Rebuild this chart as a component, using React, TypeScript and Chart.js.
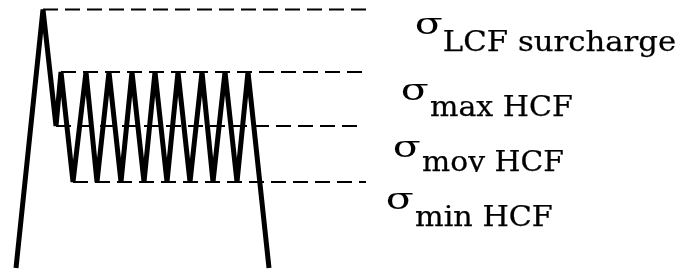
import { useEffect, useRef } from "react";
import { Chart, registerables } from "chart.js";

Chart.register(...registerables);

// Loading history: time (x) and stress (y)
const cycleTime = [16, 43, 56, 61, 73, 86, 97, 109, 121, 132, 144, 155, 167, 178, 190, 202, 213, 225, 237, 248, 269];
const cycleStress = [5, 263.5, 147, 201, 91, 201, 91, 201, 91, 201, 91, 201, 91, 201, 91, 201, 91, 201, 91, 201, 5];

// Reference stress levels (dashed lines)
const levelNames = ["LCF surcharge", "max HCF", "moy HCF", "min HCF"];
const levelValues = [263.5, 201, 147, 91];
const levelStart = [43, 61, 56, 73];
const levelEnd = [366, 366, 358, 366];

// Label layout (pixels): sigma ink-left, sigma baseline, subscript ink-left, subscript baseline, subscript width
const labelLayout = [
  { sx: 416, sy: 34, bx: 444, by: 51, bw: 231, clip: 0 },
  { sx: 402, sy: 100, bx: 430, by: 116, bw: 142, clip: 0 },
  { sx: 394, sy: 157, bx: 422, by: 171, bw: 141, clip: 172 },
  { sx: 387, sy: 209, bx: 415, by: 226, bw: 137, clip: 0 },
];
const SIGMA_W = 26;
const FONT = '"DejaVu Serif", "Liberation Serif", serif';

const labelPlugin = {
  id: "sigmaLabels",
  afterDraw(chart: any) {
    const ctx = chart.ctx as CanvasRenderingContext2D;
    labelLayout.forEach((l, i) => {
      ctx.save();
      if (l.clip) {
        ctx.beginPath();
        ctx.rect(0, 0, chart.width, l.clip);
        ctx.clip();
      }
      ctx.fillStyle = "#000";
      ctx.strokeStyle = "#000";
      ctx.lineJoin = "round";
      ctx.textBaseline = "alphabetic";
      ctx.textAlign = "left";
      // sigma
      ctx.font = `30px ${FONT}`;
      const ms = ctx.measureText("σ");
      const sw = ms.actualBoundingBoxRight + ms.actualBoundingBoxLeft;
      const ss = SIGMA_W / sw;
      ctx.save();
      ctx.translate(l.sx, l.sy);
      ctx.scale(ss, 1);
      ctx.fillText("σ", ms.actualBoundingBoxLeft, 0);
      ctx.restore();
      // subscript
      const txt = levelNames[i];
      ctx.font = `27px ${FONT}`;
      const mb = ctx.measureText(txt);
      const bwid = mb.actualBoundingBoxRight + mb.actualBoundingBoxLeft;
      const bs = l.bw / bwid;
      ctx.save();
      ctx.translate(l.bx, l.by);
      ctx.scale(bs, 1);
      ctx.lineWidth = 0.25;
      ctx.fillText(txt, mb.actualBoundingBoxLeft, 0);
      ctx.strokeText(txt, mb.actualBoundingBoxLeft, 0);
      ctx.restore();
      ctx.restore();
    });
  },
};

export default function App() {
  const ref = useRef<HTMLCanvasElement | null>(null);
  useEffect(() => {
    if (!ref.current) return;
    const cycle = cycleTime.map((t, i) => ({ x: t, y: cycleStress[i] }));
    const levels = levelValues.map((v, i) => ({
      data: [
        { x: levelStart[i], y: v },
        { x: levelEnd[i], y: v },
      ],
      borderColor: "#000",
      borderWidth: 2,
      borderDash: [15, 7],
      pointRadius: 0,
      fill: false,
    }));
    const chart = new Chart(ref.current, {
      type: "line",
      data: {
        datasets: [
          {
            data: cycle,
            borderColor: "#000",
            borderWidth: 5,
            pointRadius: 0,
            fill: false,
            borderJoinStyle: "bevel",
            borderCapStyle: "butt",
          } as any,
          ...levels,
        ],
      },
      options: {
        responsive: false,
        maintainAspectRatio: false,
        animation: false,
        devicePixelRatio: 1,
        layout: { padding: 0 },
        elements: { line: { tension: 0 } },
        plugins: { legend: { display: false }, tooltip: { enabled: false } },
        scales: {
          x: { type: "linear", min: 0, max: 681, display: false },
          y: { type: "linear", min: 0, max: 273, display: false },
        },
      },
      plugins: [labelPlugin],
    });
    return () => chart.destroy();
  }, []);
  return (
    <div style={{ position: "fixed", left: 0, top: 0, width: 681, height: 273, background: "#fff" }}>
      <canvas ref={ref} width={681} height={273} style={{ display: "block", width: 681, height: 273 }} />
    </div>
  );
}
